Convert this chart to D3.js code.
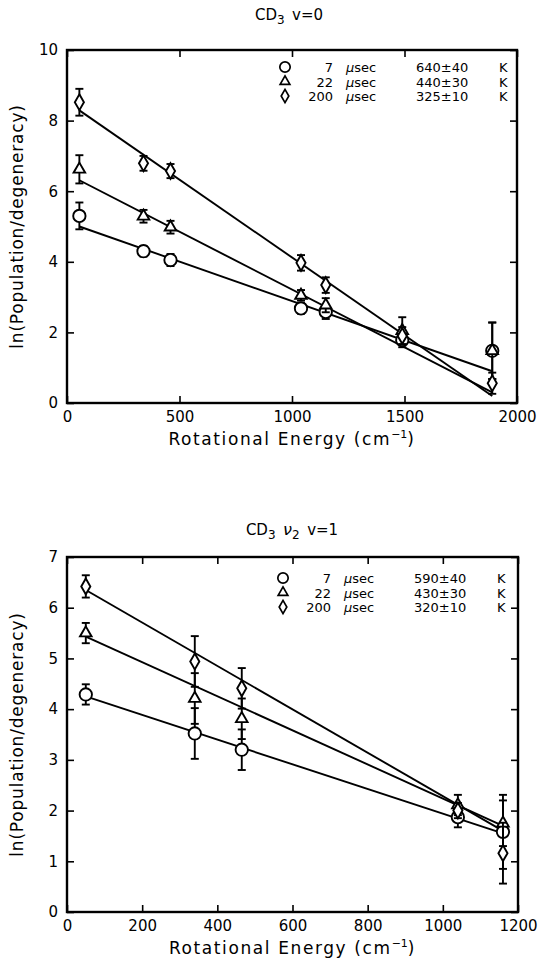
<!DOCTYPE html>
<html>
<head>
<meta charset="utf-8">
<script src="https://cdn.jsdelivr.net/npm/d3@7"></script>
<style>
  body { margin: 0; background: #fff; }
  svg { display: block; }
  text { font-family: "DejaVu Sans", sans-serif; fill: #000; }
</style>
</head>
<body>
<script>
const WIDTH = 545;
const HEIGHT = 959;

// legend columns
var delays = ['7', '22', '200'];
var tempsV0 = ['640±40', '440±30', '325±10'];
var tempsV1 = ['590±40', '430±30', '320±10'];

// CD3 v=0
var energyV0 = [55, 340, 460, 1040, 1150, 1490, 1890];
var pop7V0 = [5.3, 4.3, 4.05, 2.68, 2.58, 1.78, 1.48];
var err7V0 = [0.38, 0.15, 0.17, 0.15, 0.2, 0.2, 0.8];
var pop22V0 = [6.62, 5.29, 4.98, 3.05, 2.77, 2.05, 1.48];
var err22V0 = [0.4, 0.18, 0.18, 0.15, 0.2, 0.38, 0.8];
var pop200V0 = [8.52, 6.79, 6.57, 3.97, 3.34, 1.9, 0.56];
var err200V0 = [0.38, 0.21, 0.2, 0.22, 0.22, 0.25, 0.3];
var fitEnergyV0 = [55, 1890];
var fit7V0 = [5.0, 0.9];
var fit22V0 = [6.31, 0.3];
var fit200V0 = [8.29, 0.2];
var xTicksV0 = [0, 500, 1000, 1500, 2000];
var yTicksV0 = [0, 2, 4, 6, 8, 10];

// CD3 nu2 v=1
var energyV1 = [50, 340, 465, 1040, 1160];
var pop7V1 = [4.29, 3.52, 3.2, 1.87, 1.58];
var err7V1 = [0.2, 0.5, 0.4, 0.2, 0.73];
var pop22V1 = [5.5, 4.21, 3.81, 2.11, 1.75];
var err22V1 = [0.2, 0.5, 0.4, 0.2, 0.45];
var pop200V1 = [6.42, 4.94, 4.41, 2.0, 1.16];
var err200V1 = [0.22, 0.5, 0.4, 0.15, 0.6];
var fitEnergyV1 = [50, 1160];
var fit7V1 = [4.25, 1.55];
var fit22V1 = [5.43, 1.7];
var fit200V1 = [6.35, 1.6];
var xTicksV1 = [0, 200, 400, 600, 800, 1000, 1200];
var yTicksV1 = [0, 1, 2, 3, 4, 5, 6, 7];

var symbols = [d3.symbolCircle, d3.symbolTriangle, d3.symbolDiamond];
var symbolSizes = [120, 58, 72];

var svg = d3.select('body').append('svg')
    .attr('width', WIDTH)
    .attr('height', HEIGHT);

var loadPanel = function (cfg) {
    var x = d3.scaleLinear().domain(cfg.xDomain).range([cfg.left, cfg.right]);
    var y = d3.scaleLinear().domain(cfg.yDomain).range([cfg.bottom, cfg.top]);
    var g = svg.append('g');

    // title
    var title = g.append('text')
        .attr('x', cfg.titleX)
        .attr('y', cfg.titleY)
        .attr('text-anchor', 'middle')
        .attr('font-size', 15);
    title.append('tspan').text('CD');
    title.append('tspan').attr('dy', 4).attr('font-size', 12).text('3');
    if (cfg.nu) {
        title.append('tspan').attr('dy', -4).text('\u2002');
        title.append('tspan').attr('font-style', 'italic').attr('font-size', 16).text('ν');
        title.append('tspan').attr('dy', 4).attr('font-size', 12).text('2');
        title.append('tspan').attr('dy', -4).text('\u2002v=1');
    } else {
        title.append('tspan').attr('dy', -4).text('\u2002v=0');
    }

    // axes, ticks inward on all four sides
    var tickStyle = function (sel) {
        sel.select('.domain').remove();
        sel.selectAll('line').attr('stroke', '#000').attr('stroke-width', 1.6);
    };
    g.append('g')
        .attr('transform', 'translate(0,' + cfg.bottom + ')')
        .call(d3.axisBottom(x).tickValues(cfg.xTicks).tickSize(-7).tickPadding(8).tickFormat(d3.format('d')))
        .call(tickStyle)
        .selectAll('text').attr('font-size', 15).attr('font-family', '"DejaVu Sans", sans-serif');
    g.append('g')
        .attr('transform', 'translate(0,' + cfg.top + ')')
        .call(d3.axisTop(x).tickValues(cfg.xTicks).tickSize(-7).tickFormat(''))
        .call(tickStyle);
    g.append('g')
        .attr('transform', 'translate(' + cfg.left + ',0)')
        .call(d3.axisLeft(y).tickValues(cfg.yTicks).tickSize(-7).tickPadding(9).tickFormat(d3.format('d')))
        .call(tickStyle)
        .selectAll('text').attr('font-size', 15).attr('font-family', '"DejaVu Sans", sans-serif');
    g.append('g')
        .attr('transform', 'translate(' + cfg.right + ',0)')
        .call(d3.axisRight(y).tickValues(cfg.yTicks).tickSize(-7).tickFormat(''))
        .call(tickStyle);
    g.append('rect')
        .attr('x', cfg.left).attr('y', cfg.top)
        .attr('width', cfg.right - cfg.left).attr('height', cfg.bottom - cfg.top)
        .attr('fill', 'none').attr('stroke', '#000').attr('stroke-width', 2.4);

    // axis labels
    var xl = g.append('text')
        .attr('x', (cfg.left + cfg.right) / 2)
        .attr('y', cfg.bottom + 42)
        .attr('text-anchor', 'middle')
        .attr('font-size', 17)
        .attr('letter-spacing', 1.6);
    xl.append('tspan').text('Rotational Energy  (cm');
    xl.append('tspan').attr('dy', -7).attr('font-size', 11).attr('letter-spacing', 0).text('−1');
    xl.append('tspan').attr('dy', 7).text(')');
    g.append('text')
        .attr('transform', 'translate(' + (cfg.left - 44) + ',' + ((cfg.top + cfg.bottom) / 2) + ') rotate(-90)')
        .attr('text-anchor', 'middle')
        .attr('font-size', 17)
        .attr('letter-spacing', 0.8)
        .text('ln(Population/degeneracy)');

    // fit lines
    var line = d3.line()
        .x(function (d) { return x(d[0]); })
        .y(function (d) { return y(d[1]); });
    cfg.fits.forEach(function (f) {
        g.append('path')
            .attr('d', line(d3.zip(cfg.fitEnergy, f)))
            .attr('fill', 'none')
            .attr('stroke', '#000')
            .attr('stroke-width', 1.9);
    });

    // error bars then markers
    cfg.series.forEach(function (s, i) {
        var pts = cfg.energy.map(function (e, j) { return { e: e, v: s.pop[j], err: s.err[j] }; });
        var eb = g.append('g').selectAll('g').data(pts).enter().append('g');
        eb.append('line')
            .attr('x1', function (d) { return x(d.e); })
            .attr('x2', function (d) { return x(d.e); })
            .attr('y1', function (d) { return y(d.v - d.err); })
            .attr('y2', function (d) { return y(d.v + d.err); })
            .attr('stroke', '#000').attr('stroke-width', 1.9);
        [-1, 1].forEach(function (sign) {
            eb.append('line')
                .attr('x1', function (d) { return x(d.e) - 4; })
                .attr('x2', function (d) { return x(d.e) + 4; })
                .attr('y1', function (d) { return y(d.v + sign * d.err); })
                .attr('y2', function (d) { return y(d.v + sign * d.err); })
                .attr('stroke', '#000').attr('stroke-width', 1.9);
        });
        g.append('g').selectAll('path').data(pts).enter().append('path')
            .attr('d', d3.symbol().type(symbols[i]).size(symbolSizes[i]))
            .attr('transform', function (d) {
                return 'translate(' + x(d.e) + ',' + y(d.v) + ')';
            })
            .attr('fill', '#fff')
            .attr('stroke', '#000')
            .attr('stroke-width', 1.9);
    });

    // legend
    var lg = g.append('g');
    delays.forEach(function (dl, i) {
        var ly = cfg.legendY + i * 14.5;
        lg.append('path')
            .attr('d', d3.symbol().type(symbols[i]).size(symbolSizes[i] * 0.7))
            .attr('transform', 'translate(' + cfg.legendX + ',' + (ly - 5) + ')')
            .attr('fill', '#fff').attr('stroke', '#000').attr('stroke-width', 1.7);
        lg.append('text')
            .attr('x', cfg.legendX + 48).attr('y', ly)
            .attr('text-anchor', 'end').attr('font-size', 13)
            .text(dl);
        var t = lg.append('text')
            .attr('x', cfg.legendX + 61).attr('y', ly)
            .attr('font-size', 13);
        t.append('tspan').attr('font-style', 'italic').text('μ');
        t.append('tspan').text('sec');
        lg.append('text')
            .attr('x', cfg.legendX + 131).attr('y', ly)
            .attr('font-size', 13)
            .text(cfg.temps[i]);
        lg.append('text')
            .attr('x', cfg.legendX + 214).attr('y', ly)
            .attr('font-size', 13)
            .text('K');
    });
};

loadPanel({
    left: 67, right: 517, top: 50, bottom: 403,
    xDomain: [0, 2000], yDomain: [0, 10],
    xTicks: xTicksV0, yTicks: yTicksV0,
    titleX: 289, titleY: 20, nu: false,
    energy: energyV0, fitEnergy: fitEnergyV0,
    fits: [fit7V0, fit22V0, fit200V0],
    series: [
        { pop: pop7V0, err: err7V0 },
        { pop: pop22V0, err: err22V0 },
        { pop: pop200V0, err: err200V0 }
    ],
    temps: tempsV0, legendX: 285, legendY: 72
});

loadPanel({
    left: 67, right: 518, top: 557, bottom: 912,
    xDomain: [0, 1200], yDomain: [0, 7],
    xTicks: xTicksV1, yTicks: yTicksV1,
    titleX: 292, titleY: 535, nu: true,
    energy: energyV1, fitEnergy: fitEnergyV1,
    fits: [fit7V1, fit22V1, fit200V1],
    series: [
        { pop: pop7V1, err: err7V1 },
        { pop: pop22V1, err: err22V1 },
        { pop: pop200V1, err: err200V1 }
    ],
    temps: tempsV1, legendX: 283, legendY: 583
});
</script>
</body>
</html>
